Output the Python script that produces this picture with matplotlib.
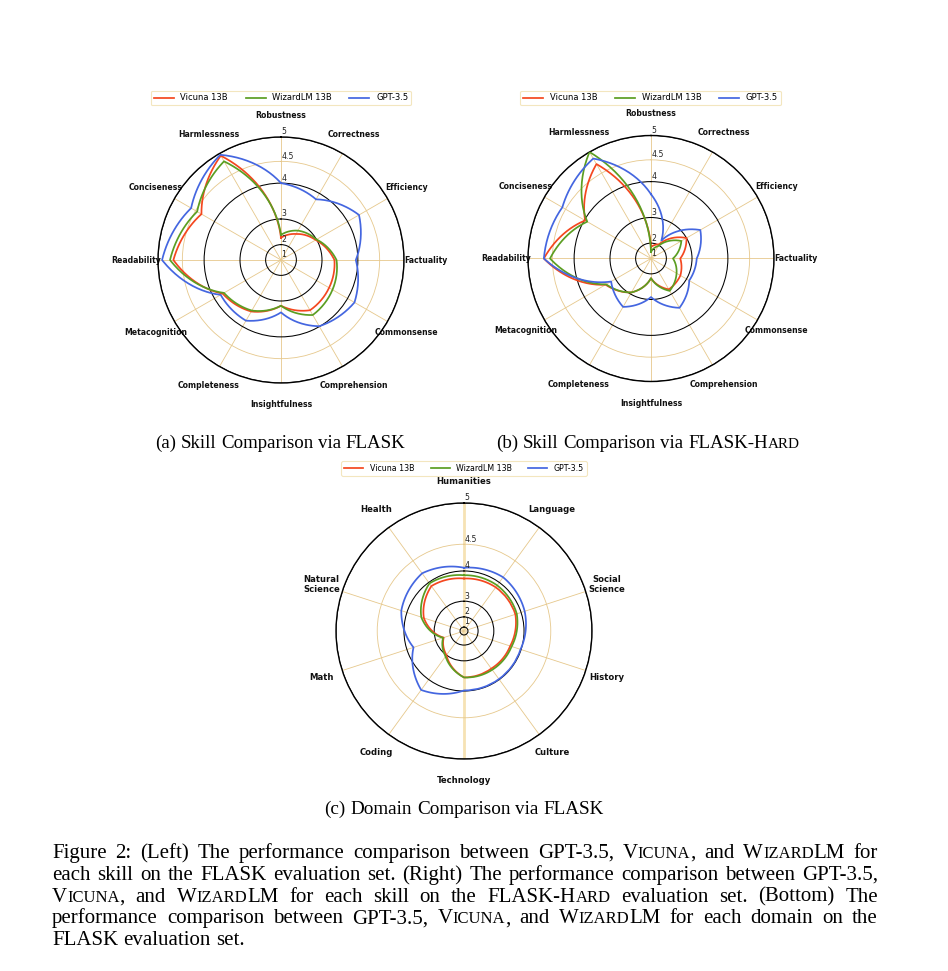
import re
import numpy as np
import matplotlib
matplotlib.use('Agg')
import matplotlib.pyplot as plt

skills = ['Robustness', 'Correctness', 'Efficiency', 'Factuality', 'Commonsense',
          'Comprehension', 'Insightfulness', 'Completeness', 'Metacognition',
          'Readability', 'Conciseness', 'Harmlessness']

# (a) FLASK
vicuna_flask = [2.31, 2.62, 2.97, 3.38, 3.44, 3.51, 3.15, 3.55, 3.76, 4.69, 4.35, 4.95]
wizard_flask = [2.43, 2.76, 3.00, 3.44, 3.55, 3.66, 3.15, 3.52, 3.72, 4.76, 4.46, 4.82]
gpt_flask = [4.00, 3.83, 4.31, 3.95, 4.19, 3.99, 3.35, 3.83, 3.82, 4.92, 4.61, 4.97]

# (b) FLASK-Hard
vicuna_hard = [1.80, 2.05, 3.00, 2.59, 2.76, 2.82, 2.20, 2.94, 3.35, 4.68, 3.98, 4.72]
wizard_hard = [1.50, 1.95, 2.80, 2.30, 2.60, 2.88, 2.20, 2.94, 3.33, 4.55, 3.92, 5.00]
gpt_hard = [3.68, 2.25, 3.48, 3.15, 3.10, 3.48, 2.92, 3.45, 3.16, 4.68, 4.58, 4.85]

# (c) domains
domains = ['Humanities', 'Language', 'Social\nScience', 'History', 'Culture',
           'Technology', 'Coding', 'Math', 'Natural\nScience', 'Health']
vicuna_domain = [3.75, 3.80, 3.80, 3.62, 3.55, 3.55, 3.00, 2.46, 3.41, 3.85]
wizard_domain = [3.86, 3.88, 3.85, 3.67, 3.60, 3.55, 3.05, 2.50, 3.50, 3.96]
gpt_domain = [4.06, 4.12, 4.07, 3.98, 3.98, 3.98, 4.24, 3.77, 4.11, 4.21]

model_names = ['Vicuna 13B', 'WizardLM 13B', 'GPT-3.5']
r_ticks = [1, 2, 3, 4, 4.5, 5]
r_tick_labels = ['1', '2', '3', '4', '4.5', '5']

colors = ['#f4471f', '#5b9e22', '#4466e0']
grid_tan = '#e6c88c'

W, H = 948, 971
fig = plt.figure(figsize=(W / 100, H / 100), dpi=100)


def sq(v):
    return np.square(v)


def sqrt(r):
    return np.sqrt(np.maximum(r, 0))


# radial calibration of the domain chart (value -> fraction of radius)
dom_v = [0.6, 1, 2, 3, 4, 4.5, 5]
dom_r = [0.0, 0.031, 0.11, 0.233, 0.469, 0.678, 1.0]


def dom_fwd(v):
    return np.interp(v, dom_v, dom_r)


def dom_inv(r):
    return np.interp(r, dom_r, dom_v)


def radar(cx, cy, R, labels, series, funcs, rmin, label_size, leg_xy, leg_size):
    ax = fig.add_axes([(cx - R) / W, 1 - (cy + R) / H, 2 * R / W, 2 * R / H],
                      projection='polar')
    ax.set_theta_offset(np.pi / 2)
    ax.set_theta_direction(-1)
    ax.set_rscale('function', functions=funcs)
    angles = np.linspace(0, 2 * np.pi, len(labels), endpoint=False)
    lines = []
    for vals, c, name in zip(series, colors, model_names):
        th = list(angles) + [2 * np.pi]
        rv = list(vals) + [vals[0]]
        line, = ax.plot(th, rv, color=c, lw=1.25, label=name, zorder=3)
        line.get_path()._interpolation_steps = 40
        lines.append(line)
    ax.set_ylim(rmin, 5)
    ax.set_xticks(angles)
    ax.set_xticklabels(labels, fontsize=label_size, fontweight='bold',
                       color='#111111', linespacing=1.1)
    ax.tick_params(axis='x', pad=8.8, length=0)
    ax.set_yticks(r_ticks)
    ax.set_yticklabels([])
    ax.tick_params(axis='y', length=0)
    ax.grid(True, color=grid_tan, lw=0.6)
    for v, gl in zip(r_ticks, ax.yaxis.get_gridlines()):
        if float(v).is_integer():
            gl.set_color('black')
            gl.set_linewidth(0.75)
    for v, s in zip(r_ticks, r_tick_labels):
        ax.annotate(s, xy=(0, v), xytext=(0.3, 0.4), textcoords='offset points',
                    ha='left', va='bottom', fontsize=5.6, color='#222222')
    ax.spines['polar'].set_linewidth(1.0)
    ax.spines['polar'].set_color('black')
    leg = fig.legend(lines, model_names, loc='center',
                     bbox_to_anchor=(leg_xy[0] / W, 1 - leg_xy[1] / H),
                     ncol=3, fontsize=leg_size, frameon=True, fancybox=True,
                     handlelength=2.4, columnspacing=2.1, handletextpad=0.8,
                     borderpad=0.35)
    leg.get_frame().set_edgecolor('#f0e0b0')
    leg.get_frame().set_linewidth(0.8)
    return ax


radar(281, 260, 123, skills, [vicuna_flask, wizard_flask, gpt_flask],
      (sq, sqrt), 1, 5.6, (281, 98), 6.0)
radar(651, 258.5, 123, skills, [vicuna_hard, wizard_hard, gpt_hard],
      (sq, sqrt), 1, 5.6, (650.5, 98), 6.0)
ax_c = radar(464, 631, 128, domains, [vicuna_domain, wizard_domain, gpt_domain],
             (dom_fwd, dom_inv), 0.6, 6.1, (464, 468.5), 5.7)
xgl = ax_c.xaxis.get_gridlines()
for i in (0, 5):
    xgl[i].set_color('#f6e2b4')
    xgl[i].set_linewidth(2.0)

# ---- captions (Times-like serif with small caps runs) ----
serif = 'Liberation Serif'
renderer = fig.canvas.get_renderer()


def make_word(word, size, sc):
    runs = []
    for part in re.split(r'(<[^>]*>)', word):
        if not part:
            continue
        if part.startswith('<'):
            runs.append(fig.text(0, 0, part[1:-1].upper(), fontsize=size * sc,
                                 family=serif, va='baseline'))
        else:
            runs.append(fig.text(0, 0, part, fontsize=size, family=serif,
                                 va='baseline'))
    widths = [t.get_window_extent(renderer).width for t in runs]
    return runs, widths


def space_width(size):
    a = fig.text(0, 0, 'a a', fontsize=size, family=serif)
    b = fig.text(0, 0, 'aa', fontsize=size, family=serif)
    w = a.get_window_extent(renderer).width - b.get_window_extent(renderer).width
    a.remove()
    b.remove()
    return w


def text_line(line, x, baseline, size, mode='left', right=None, sc=0.8):
    words = [make_word(w, size, sc) for w in line.split(' ')]
    total = sum(sum(ws) for _, ws in words)
    sp = space_width(size)
    if mode == 'justify' and len(words) > 1:
        gap = (right - x - total) / (len(words) - 1)
        start = x
    elif mode == 'center':
        gap = sp
        start = x - (total + gap * (len(words) - 1)) / 2
    else:
        gap = sp
        start = x
    cur = start
    for runs, ws in words:
        for t, w in zip(runs, ws):
            t.set_position((cur / W, 1 - baseline / H))
            cur += w
        cur += gap


text_line('(a) Skill Comparison via FLASK', 280, 448, 13.6, 'center')
text_line('(b) Skill Comparison via FLASK-H<ard>', 648, 448, 13.6, 'center')
text_line('(c) Domain Comparison via FLASK', 464, 814, 13.8, 'center')

caption = [
    'Figure 2: (Left) The performance comparison between GPT-3.5, V<icuna>, and W<izard>LM for',
    'each skill on the FLASK evaluation set. (Right) The performance comparison between GPT-3.5,',
    'V<icuna>, and W<izard>LM for each skill on the FLASK-H<ard> evaluation set. (Bottom) The',
    'performance comparison between GPT-3.5, V<icuna>, and W<izard>LM for each domain on the',
    'FLASK evaluation set.',
]
for i, line in enumerate(caption):
    mode = 'justify' if i < len(caption) - 1 else 'left'
    text_line(line, 52, 858 + 21.8 * i, 15.0, mode, right=878)

fig.savefig('out.png', dpi=100)
